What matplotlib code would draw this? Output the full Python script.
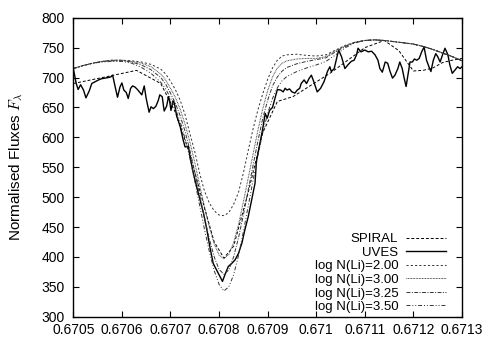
import numpy as np
import matplotlib
matplotlib.use("Agg")
import matplotlib.pyplot as plt

plt.rcParams["font.family"] = ["Liberation Sans", "DejaVu Sans"]
plt.rcParams["mathtext.fontset"] = "cm"

# observed UVES spectrum
uves_wl = [
    0.670500, 0.670506, 0.670510, 0.670515, 0.670521, 0.670526, 0.670533, 0.670538,
    0.670545, 0.670552, 0.670558, 0.670565, 0.670572, 0.670577, 0.670581, 0.670586,
    0.670591, 0.670596, 0.670600, 0.670604, 0.670609, 0.670613, 0.670618, 0.670622,
    0.670627, 0.670632, 0.670636, 0.670641, 0.670646, 0.670650, 0.670656, 0.670660,
    0.670665, 0.670670, 0.670675, 0.670678, 0.670683, 0.670687, 0.670692, 0.670696,
    0.670698, 0.670701, 0.670705, 0.670708, 0.670713, 0.670720, 0.670726, 0.670730,
    0.670737, 0.670740, 0.670747, 0.670754, 0.670761, 0.670768, 0.670775, 0.670781,
    0.670788, 0.670795, 0.670802, 0.670807, 0.670812, 0.670819, 0.670826, 0.670833,
    0.670840, 0.670847, 0.670853, 0.670860, 0.670867, 0.670874, 0.670877, 0.670884,
    0.670890, 0.670895, 0.670899, 0.670904, 0.670910, 0.670915, 0.670920, 0.670927,
    0.670932, 0.670936, 0.670940, 0.670945, 0.670950, 0.670956, 0.670961, 0.670966,
    0.670969, 0.670975, 0.670980, 0.670985, 0.670990, 0.670995, 0.671002, 0.671009,
    0.671016, 0.671023, 0.671028, 0.671031, 0.671037, 0.671041, 0.671046, 0.671052,
    0.671059, 0.671065, 0.671072, 0.671078, 0.671083, 0.671086, 0.671092, 0.671100,
    0.671107, 0.671114, 0.671121, 0.671127, 0.671131, 0.671136, 0.671142, 0.671147,
    0.671152, 0.671157, 0.671162, 0.671168, 0.671172, 0.671177, 0.671181, 0.671185,
    0.671190, 0.671193, 0.671198, 0.671202, 0.671207, 0.671212, 0.671217, 0.671222,
    0.671227, 0.671232, 0.671236, 0.671241, 0.671246, 0.671250, 0.671255, 0.671260,
    0.671265, 0.671271, 0.671275, 0.671280, 0.671286, 0.671291, 0.671296, 0.671300,
]
uves_flux = [
    715, 690, 680, 688, 679, 666, 678, 690,
    693, 696, 698, 699, 700, 701, 704, 685,
    667, 684, 691, 679, 675, 665, 682, 686,
    684, 680, 676, 671, 686, 665, 642, 651,
    648, 652, 662, 671, 668, 644, 652, 668,
    662, 645, 661, 657, 635, 618, 596, 584,
    585, 568, 540, 517, 495, 473, 445, 417,
    389, 378, 367, 359, 370, 384, 389, 395,
    406, 423, 445, 467, 495, 523, 560, 590,
    615, 640, 632, 645, 650, 665, 680, 679,
    676, 682, 679, 681, 676, 674, 679, 682,
    690, 696, 690, 698, 704, 693, 676, 682,
    693, 710, 718, 710, 715, 729, 746, 735,
    715, 721, 727, 729, 738, 749, 743, 746,
    743, 744, 738, 729, 715, 709, 726, 724,
    710, 699, 704, 715, 726, 715, 699, 685,
    710, 726, 726, 731, 729, 732, 743, 751,
    729, 718, 710, 729, 740, 735, 726, 738,
    749, 738, 721, 707, 713, 718, 715, 718,
]

# SPIRAL spectrum (coarse sampling)
spiral_wl = [0.67050, 0.67056, 0.67063, 0.67068, 0.67071, 0.67074, 0.67077, 0.67079,
             0.67081, 0.67083, 0.67086, 0.67089, 0.67092, 0.670952, 0.67103, 0.67110,
             0.67114, 0.67117, 0.67120, 0.67122, 0.67124, 0.67126, 0.67128, 0.67130]
spiral_flux = [690, 700, 712, 690, 642, 572, 482, 425,
               398, 418, 508, 608, 660, 668, 708, 750,
               762, 745, 711, 712, 716, 725, 729, 732]

# synthetic spectra
model_wl = [
    0.67050, 0.67052, 0.67054, 0.67056, 0.67058, 0.67060, 0.67062, 0.67064,
    0.67066, 0.67068, 0.67069, 0.67070, 0.67071, 0.67072, 0.67073, 0.67074,
    0.67075, 0.67076, 0.67077, 0.67078, 0.67079, 0.67080, 0.67081, 0.67082,
    0.67083, 0.67084, 0.67085, 0.67086, 0.67087, 0.67088, 0.67089, 0.67090,
    0.67091, 0.67092, 0.67093, 0.67094, 0.67096, 0.67098, 0.67100, 0.67102,
    0.67104, 0.67106, 0.67108, 0.67110, 0.67112, 0.67114, 0.67116, 0.67118,
    0.67120, 0.67122, 0.67124, 0.67126, 0.67128, 0.67130,
]
li_200 = [
    715, 720, 724, 727, 729, 729, 728, 726,
    722, 714, 706, 694, 680, 662, 638, 606,
    576, 540, 510, 490, 477, 470, 469, 474,
    488, 508, 540, 578, 614, 646, 673, 697,
    716, 729, 736, 738, 739, 737, 736, 738,
    746, 754, 759, 762, 763, 762, 760, 758,
    756, 752, 747, 741, 735, 728,
]
li_300 = [
    715, 720, 724, 727, 729, 729, 727, 724,
    718, 706, 696, 682, 667, 647, 622, 592,
    558, 520, 484, 450, 422, 403, 397, 404,
    424, 454, 492, 532, 572, 612, 648, 678,
    701, 716, 724, 728, 731, 732, 732, 735,
    745, 753, 759, 762, 763, 762, 760, 758,
    756, 752, 747, 741, 735, 728,
]
li_325 = [
    715, 720, 724, 727, 728, 728, 726, 721,
    713, 700, 689, 674, 657, 636, 610, 578,
    542, 503, 465, 430, 400, 379, 371, 378,
    400, 432, 470, 512, 553, 594, 632, 662,
    686, 701, 711, 717, 723, 727, 730, 733,
    743, 752, 759, 762, 763, 762, 760, 758,
    756, 752, 747, 741, 735, 728,
]
li_350 = [
    715, 720, 724, 726, 727, 727, 724, 717,
    707, 692, 681, 666, 648, 626, 598, 565,
    527, 486, 446, 409, 377, 354, 343, 350,
    370, 402, 442, 485, 528, 570, 608, 640,
    665, 683, 695, 702, 710, 716, 721, 727,
    738, 750, 758, 762, 763, 762, 760, 758,
    756, 752, 747, 741, 735, 728,
]

wl_ticks = [0.6705, 0.6706, 0.6707, 0.6708, 0.6709, 0.6710, 0.6711, 0.6712, 0.6713]
flux_ticks = [300, 350, 400, 450, 500, 550, 600, 650, 700, 750, 800]

fig = plt.figure(figsize=(4.92, 3.48), dpi=100)
ax = fig.add_axes([0.149, 0.090, 0.790, 0.859])

ax.plot(spiral_wl, spiral_flux, color="black", lw=0.7, ls=(0, (3, 2)), label="SPIRAL")
ax.plot(uves_wl, uves_flux, color="black", lw=1.0, label="UVES")
ax.plot(model_wl, li_200, color="#333333", lw=0.7, ls=(0, (2.2, 2.2)), label="log N(Li)=2.00")
ax.plot(model_wl, li_300, color="#333333", lw=0.7, ls=(0, (0.8, 0.8)), label="log N(Li)=3.00")
ax.plot(model_wl, li_325, color="#333333", lw=0.7, ls=(0, (4, 1.5, 1, 1.5)), label="log N(Li)=3.25")
ax.plot(model_wl, li_350, color="#333333", lw=0.7, ls=(0, (4, 2, 1, 2, 1, 2)), label="log N(Li)=3.50")

ax.set_xlim(0.6705, 0.6713)
ax.set_ylim(300, 800)
ax.set_xticks(wl_ticks)
ax.set_xticklabels([f"{v:g}" for v in wl_ticks])
ax.set_yticks(flux_ticks)
ax.tick_params(direction="in", top=True, right=True, length=4, width=0.8,
               labelsize=10)
ax.tick_params(axis="x", pad=4.5)
ax.tick_params(axis="y", pad=6)
for s in ax.spines.values():
    s.set_linewidth(1.0)

ax.set_ylabel(r"Normalised Fluxes $F_\lambda$", fontsize=11, labelpad=12)

ax.legend(loc="lower right", bbox_to_anchor=(0.958, 0.012), frameon=False,
          markerfirst=False, fontsize=9.5, handlelength=3.0, handletextpad=0.6,
          labelspacing=0.1, borderpad=0, borderaxespad=0)

fig.savefig("out.png", dpi=100)
